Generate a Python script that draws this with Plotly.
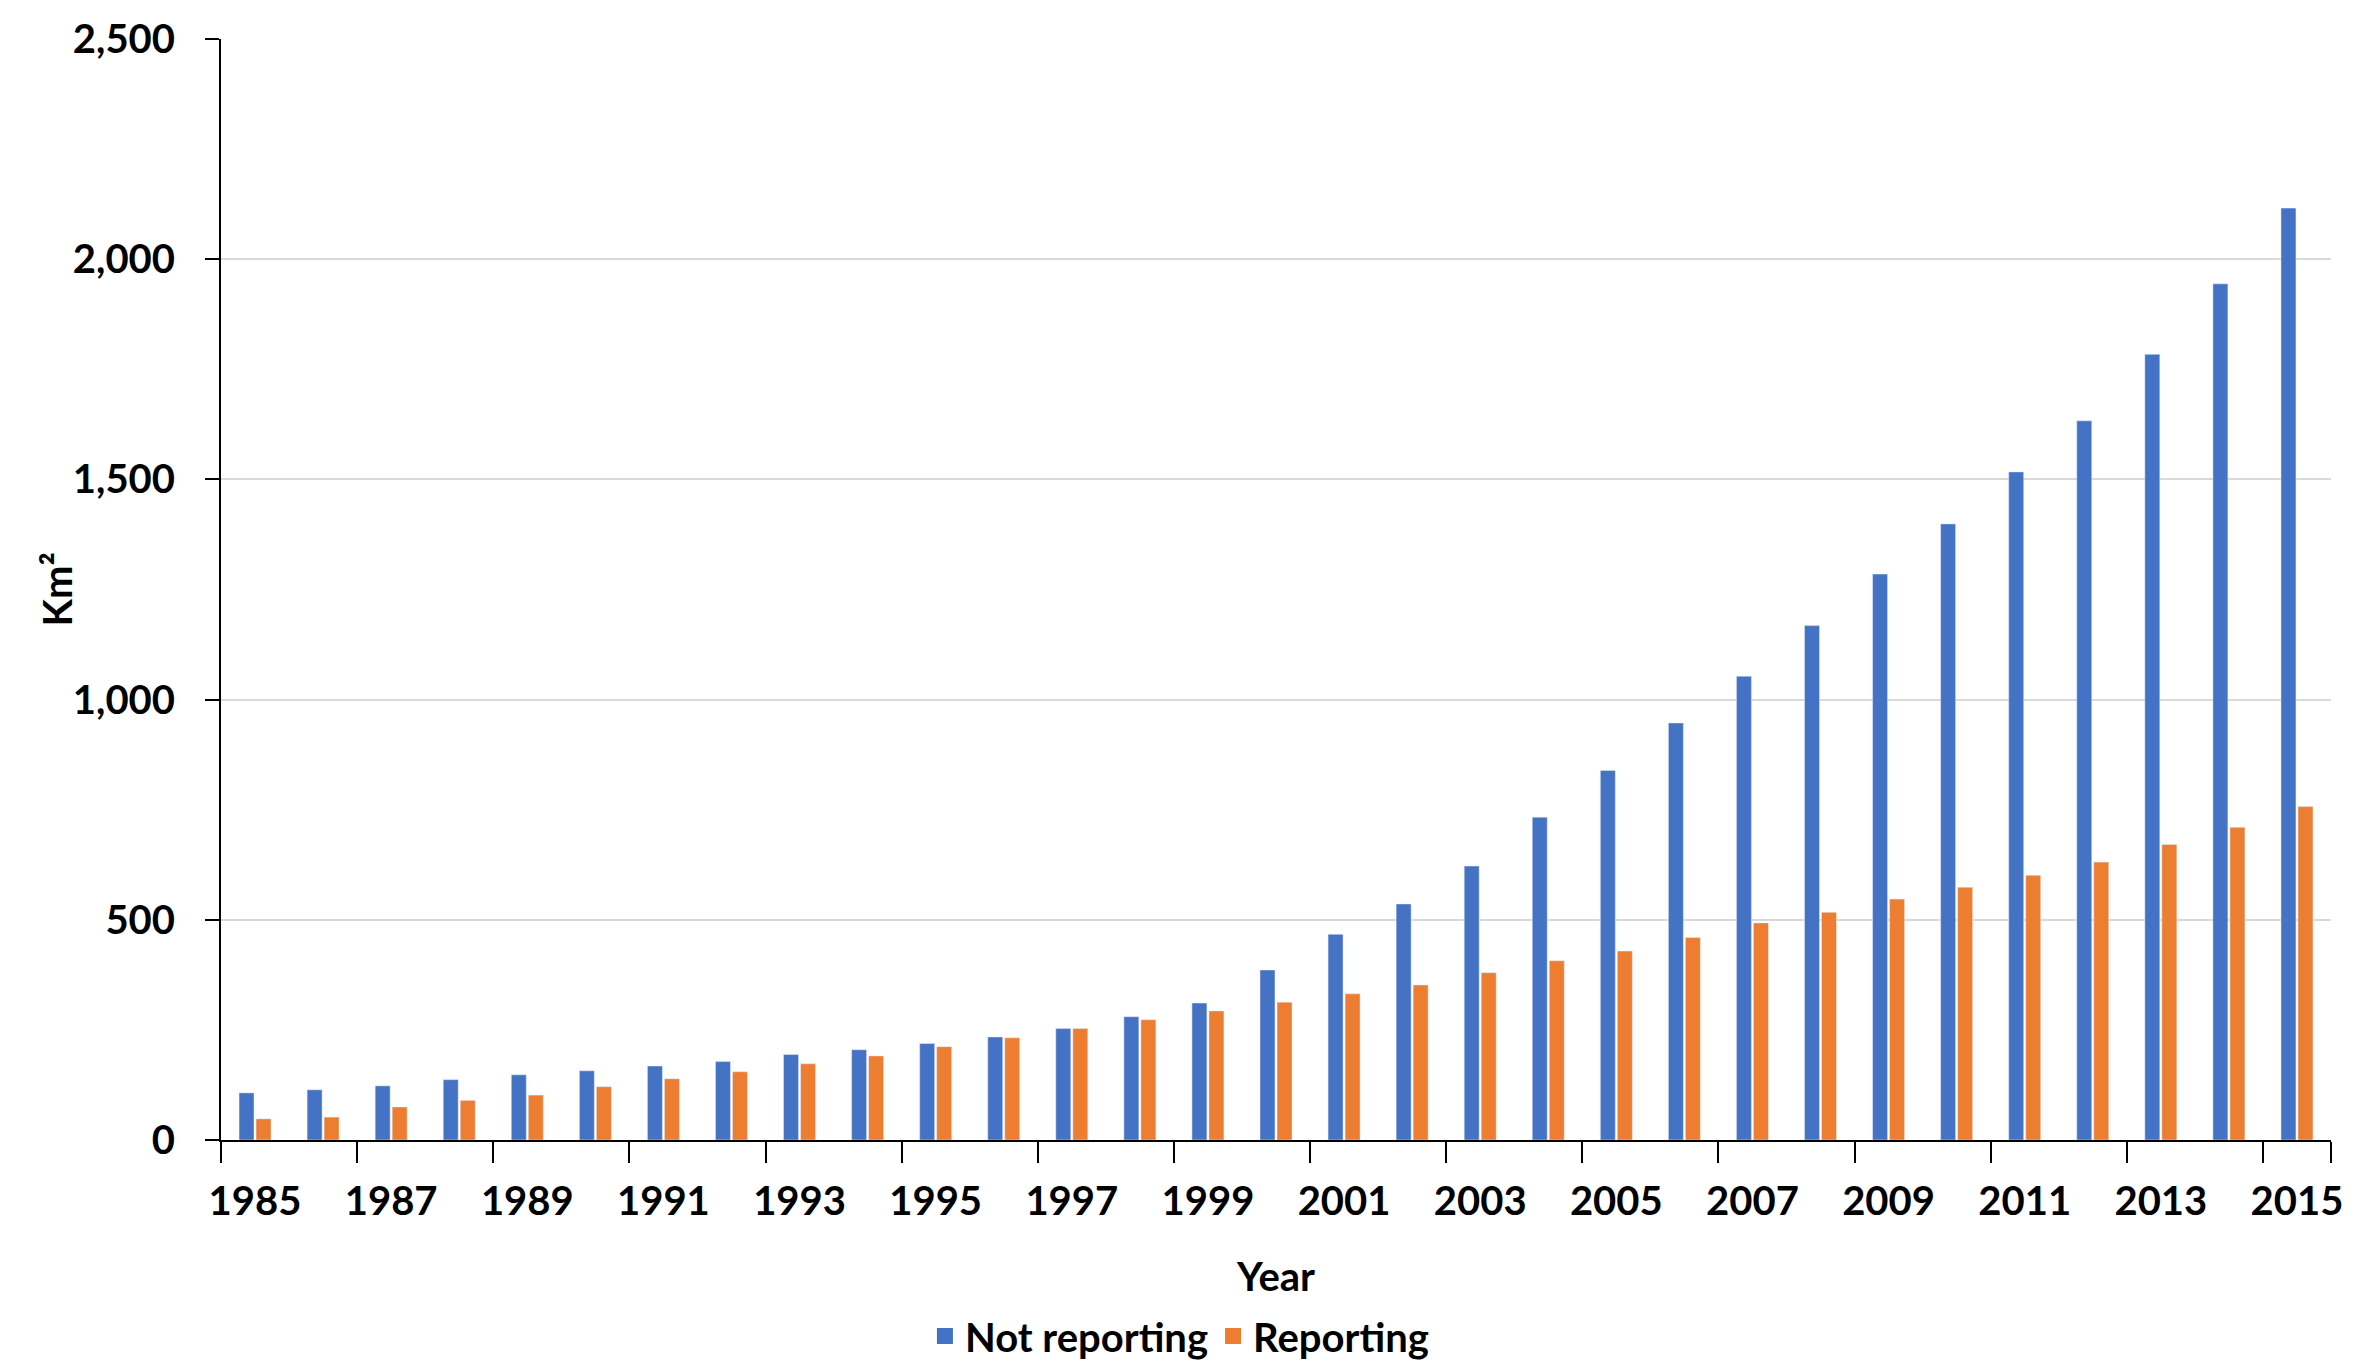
import plotly.graph_objects as go

years = [str(y) for y in range(1985, 2016)]
not_reporting = [107, 114, 123, 137, 148, 157, 168, 178, 194, 205, 219, 234, 253, 280, 311,
                 386, 467, 536, 622, 733, 839, 947, 1053, 1168, 1285, 1399, 1517, 1633, 1784, 1944, 2116]
reporting = [48, 52, 75, 90, 102, 121, 139, 155, 173, 191, 212, 232, 253, 273, 293,
             313, 332, 352, 380, 407, 429, 460, 493, 517, 547, 574, 601, 631, 671, 710, 757]
tick_years = [str(y) for y in range(1985, 2016, 2)]

FONT = "Lato"
BLUE = "#4472C4"
ORANGE = "#ED7D31"
f = dict(family=FONT, size=40, color="black", weight="bold")

fig = go.Figure()
fig.add_trace(go.Bar(x=years, y=not_reporting, name="Not reporting", marker_color=BLUE, showlegend=False))
fig.add_trace(go.Bar(x=years, y=reporting, name="Reporting", marker_color=ORANGE, showlegend=False))
# legend entries with larger square swatches
fig.add_trace(go.Scatter(x=[None], y=[None], mode="markers", name="Not reporting",
                         marker=dict(symbol="square", size=16, color=BLUE)))
fig.add_trace(go.Scatter(x=[None], y=[None], mode="markers", name="Reporting",
                         marker=dict(symbol="square", size=16, color=ORANGE)))

fig.update_layout(
    width=2357, height=1370,
    margin=dict(l=213, r=34, t=31, b=238, autoexpand=False),
    paper_bgcolor="white", plot_bgcolor="white",
    barmode="group", bargap=0.5, bargroupgap=0.12,
    font=f,
    legend=dict(orientation="h", xref="container", x=0.497, xanchor="center",
                yref="container", y=0.007, yanchor="bottom",
                font=f, itemsizing="trace", tracegroupgap=0),
    annotations=[dict(text="Km²", xref="paper", yref="paper", x=0, y=0.5,
                      xshift=-165, textangle=-90, showarrow=False, font=f,
                      xanchor="center", yanchor="middle")],
)
fig.update_xaxes(
    type="category", categoryorder="array", categoryarray=years,
    tickmode="array", tickvals=tick_years, ticktext=tick_years, tickangle=0,
    showline=True, linecolor="black", linewidth=2,
    ticks="outside", tickson="boundaries", ticklen=21, tickcolor="black", tickwidth=2,
    tickfont=f, ticklabelstandoff=25,
    title=dict(text="Year", standoff=40, font=f),
    showgrid=False,
)
fig.update_yaxes(
    range=[0, 2500], dtick=500, tickformat=",",
    showline=True, linecolor="black", linewidth=2,
    ticks="outside", ticklen=14, tickcolor="black", tickwidth=2,
    showgrid=True, gridcolor="#d9d9d9", gridwidth=2,
    zeroline=False,
    tickfont=f, ticklabelstandoff=22,
)

fig.write_html("out.html")
